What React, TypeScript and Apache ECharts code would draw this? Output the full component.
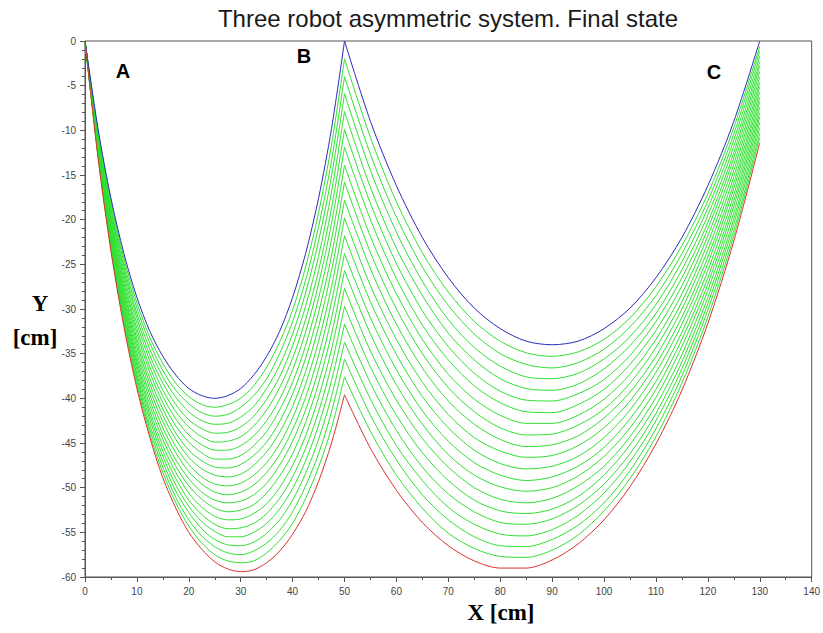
import React, { useEffect, useRef } from "react";
import * as echarts from "echarts";

// x positions (cm) at which each cable was read: A→B span and B→C span
const xLeft = [0, 2.5, 5, 7.5, 10, 12.5, 15, 17.5, 20, 22.5, 25, 27.5, 30, 32.5, 35, 37.5, 40, 42.5, 45, 47.5, 50];
const xRight = [50, 55, 60, 65, 70, 75, 80, 85, 90, 95, 100, 105, 110, 115, 120, 125, 130];

// top (blue) state, Y in cm
const blueLeftY = [0, -9.8, -17.6, -23.8, -28.7, -32.5, -35.3, -37.4, -38.9, -39.7, -40.0, -39.7, -38.9, -37.4, -35.3, -32.5, -28.7, -23.8, -17.6, -9.8, 0];
const blueRightY = [0, -9.0, -16.2, -22.0, -26.5, -29.9, -32.2, -33.6, -34.0, -33.6, -32.2, -29.9, -26.5, -22.0, -16.2, -9.0, 0];

// bottom (red) state
const redLeftY = [0, -13.0, -23.5, -32.0, -38.9, -44.4, -48.9, -52.3, -55.0, -56.9, -58.3, -59.1, -59.4, -59.2, -58.4, -57.1, -55.2, -52.7, -49.3, -45.0, -39.6];
const redRightY = [-39.6, -45.6, -50.3, -53.9, -56.5, -58.2, -59.0, -59.0, -58.1, -56.3, -53.6, -49.9, -45.1, -39.1, -31.6, -22.4, -11.4];

// intermediate (green) states
const greenLeftY = [
  [0, -10.0, -18.0, -24.3, -29.3, -33.2, -36.1, -38.3, -39.8, -40.7, -41.0, -40.7, -40.0, -38.6, -36.5, -33.7, -30.1, -25.3, -19.2, -11.6, -2.0],
  [0, -10.2, -18.3, -24.8, -29.9, -33.8, -36.9, -39.1, -40.6, -41.6, -42.0, -41.8, -41.0, -39.7, -37.8, -35.0, -31.4, -26.8, -20.8, -13.4, -4.0],
  [0, -10.4, -18.7, -25.3, -30.5, -34.5, -37.6, -39.9, -41.5, -42.5, -42.9, -42.8, -42.1, -40.9, -38.9, -36.3, -32.8, -28.2, -22.4, -15.1, -5.9],
  [0, -10.6, -19.0, -25.7, -31.0, -35.2, -38.3, -40.7, -42.4, -43.4, -43.9, -43.8, -43.2, -42.0, -40.1, -37.6, -34.1, -29.7, -24.1, -16.9, -7.9],
  [0, -10.8, -19.4, -26.2, -31.6, -35.8, -39.1, -41.5, -43.2, -44.3, -44.9, -44.8, -44.3, -43.1, -41.3, -38.8, -35.5, -31.2, -25.7, -18.7, -9.9],
  [0, -10.9, -19.7, -26.7, -32.2, -36.5, -39.8, -42.3, -44.1, -45.2, -45.8, -45.8, -45.3, -44.2, -42.5, -40.1, -36.8, -32.6, -27.2, -20.4, -11.9],
  [0, -11.1, -20.0, -27.1, -32.7, -37.1, -40.5, -43.1, -44.9, -46.1, -46.8, -46.8, -46.4, -45.3, -43.7, -41.3, -38.2, -34.1, -28.8, -22.2, -13.9],
  [0, -11.3, -20.3, -27.6, -33.3, -37.8, -41.2, -43.9, -45.8, -47.0, -47.7, -47.8, -47.4, -46.4, -44.9, -42.6, -39.5, -35.5, -30.4, -24.0, -15.8],
  [0, -11.5, -20.7, -28.0, -33.8, -38.4, -41.9, -44.6, -46.6, -47.9, -48.6, -48.8, -48.5, -47.5, -46.0, -43.8, -40.9, -37.0, -32.0, -25.7, -17.8],
  [0, -11.6, -21.0, -28.4, -34.3, -39.0, -42.6, -45.4, -47.4, -48.8, -49.6, -49.8, -49.5, -48.6, -47.2, -45.1, -42.2, -38.4, -33.6, -27.5, -19.8],
  [0, -11.8, -21.3, -28.8, -34.9, -39.6, -43.3, -46.1, -48.2, -49.6, -50.5, -50.8, -50.5, -49.7, -48.3, -46.3, -43.5, -39.9, -35.2, -29.2, -21.8],
  [0, -11.9, -21.5, -29.2, -35.4, -40.2, -44.0, -46.9, -49.0, -50.5, -51.4, -51.7, -51.5, -50.8, -49.5, -47.5, -44.8, -41.3, -36.8, -31.0, -23.8],
  [0, -12.1, -21.8, -29.6, -35.9, -40.8, -44.6, -47.6, -49.8, -51.3, -52.3, -52.7, -52.5, -51.9, -50.6, -48.7, -46.2, -42.7, -38.3, -32.8, -25.7],
  [0, -12.2, -22.1, -30.0, -36.3, -41.4, -45.3, -48.3, -50.6, -52.2, -53.2, -53.6, -53.5, -52.9, -51.8, -50.0, -47.5, -44.2, -39.9, -34.5, -27.7],
  [0, -12.4, -22.4, -30.4, -36.8, -41.9, -45.9, -49.0, -51.4, -53.0, -54.1, -54.6, -54.5, -54.0, -52.9, -51.2, -48.8, -45.6, -41.5, -36.3, -29.7],
  [0, -12.5, -22.6, -30.7, -37.3, -42.4, -46.5, -49.7, -52.1, -53.8, -54.9, -55.5, -55.5, -55.0, -54.0, -52.4, -50.1, -47.0, -43.0, -38.0, -31.7],
  [0, -12.6, -22.8, -31.1, -37.7, -43.0, -47.1, -50.4, -52.8, -54.6, -55.8, -56.4, -56.5, -56.1, -55.1, -53.6, -51.4, -48.4, -44.6, -39.8, -33.7],
  [0, -12.7, -23.1, -31.4, -38.1, -43.5, -47.7, -51.1, -53.6, -55.4, -56.6, -57.3, -57.5, -57.1, -56.2, -54.8, -52.7, -49.8, -46.2, -41.5, -35.6],
  [0, -12.9, -23.3, -31.7, -38.5, -44.0, -48.3, -51.7, -54.3, -56.2, -57.5, -58.2, -58.4, -58.2, -57.3, -55.9, -54.0, -51.2, -47.7, -43.3, -37.6],
];
const greenRightY = [
  [-2.0, -10.8, -18.0, -23.7, -28.1, -31.4, -33.6, -34.9, -35.3, -34.8, -33.4, -31.0, -27.5, -22.9, -17.1, -9.7, -0.6],
  [-4.0, -12.7, -19.7, -25.3, -29.6, -32.8, -35.0, -36.2, -36.6, -36.0, -34.5, -32.0, -28.5, -23.8, -17.9, -10.4, -1.1],
  [-5.9, -14.5, -21.4, -26.9, -31.2, -34.3, -36.4, -37.6, -37.8, -37.2, -35.6, -33.1, -29.5, -24.7, -18.7, -11.1, -1.7],
  [-7.9, -16.4, -23.2, -28.5, -32.7, -35.7, -37.8, -38.9, -39.1, -38.4, -36.7, -34.1, -30.5, -25.6, -19.5, -11.8, -2.3],
  [-9.9, -18.2, -24.9, -30.2, -34.2, -37.2, -39.2, -40.2, -40.3, -39.5, -37.9, -35.2, -31.4, -26.5, -20.3, -12.5, -2.8],
  [-11.9, -20.0, -26.6, -31.8, -35.7, -38.6, -40.5, -41.5, -41.6, -40.7, -39.0, -36.2, -32.4, -27.4, -21.0, -13.1, -3.4],
  [-13.9, -21.9, -28.3, -33.4, -37.3, -40.1, -41.9, -42.8, -42.8, -41.9, -40.1, -37.3, -33.4, -28.3, -21.8, -13.8, -4.0],
  [-15.8, -23.7, -30.0, -35.0, -38.8, -41.5, -43.3, -44.1, -44.0, -43.0, -41.2, -38.3, -34.3, -29.2, -22.6, -14.5, -4.6],
  [-17.8, -25.5, -31.7, -36.6, -40.3, -42.9, -44.6, -45.4, -45.2, -44.2, -42.2, -39.3, -35.3, -30.0, -23.4, -15.2, -5.1],
  [-19.8, -27.4, -33.4, -38.2, -41.8, -44.4, -45.9, -46.6, -46.4, -45.3, -43.3, -40.3, -36.2, -30.9, -24.2, -15.9, -5.7],
  [-21.8, -29.2, -35.1, -39.8, -43.3, -45.8, -47.3, -47.9, -47.6, -46.5, -44.4, -41.3, -37.1, -31.7, -24.9, -16.5, -6.3],
  [-23.8, -31.0, -36.8, -41.4, -44.8, -47.2, -48.6, -49.2, -48.8, -47.6, -45.5, -42.3, -38.1, -32.6, -25.7, -17.2, -6.8],
  [-25.7, -32.8, -38.5, -42.9, -46.3, -48.6, -49.9, -50.4, -50.0, -48.7, -46.5, -43.3, -39.0, -33.4, -26.5, -17.9, -7.4],
  [-27.7, -34.7, -40.2, -44.5, -47.7, -50.0, -51.3, -51.7, -51.2, -49.8, -47.6, -44.3, -39.9, -34.2, -27.2, -18.5, -8.0],
  [-29.7, -36.5, -41.9, -46.1, -49.2, -51.4, -52.6, -52.9, -52.4, -51.0, -48.6, -45.2, -40.8, -35.1, -27.9, -19.2, -8.5],
  [-31.7, -38.3, -43.6, -47.7, -50.7, -52.7, -53.9, -54.1, -53.5, -52.0, -49.6, -46.2, -41.7, -35.9, -28.7, -19.9, -9.1],
  [-33.7, -40.1, -45.3, -49.2, -52.2, -54.1, -55.2, -55.4, -54.7, -53.1, -50.6, -47.1, -42.5, -36.7, -29.4, -20.5, -9.7],
  [-35.6, -41.9, -46.9, -50.8, -53.6, -55.5, -56.5, -56.6, -55.8, -54.2, -51.7, -48.1, -43.4, -37.5, -30.1, -21.2, -10.3],
  [-37.6, -43.7, -48.6, -52.3, -55.1, -56.8, -57.7, -57.8, -57.0, -55.3, -52.6, -49.0, -44.3, -38.3, -30.9, -21.8, -10.8],
];

const robotNames = ["A", "B", "C"];

const BLUE = "#2b2bbd";
const RED = "#dc2f2f";
const GREEN = "#2fe02f";

function lineSeries(xs: number[], ys: number[], color: string, z: number) {
  return {
    type: "line",
    data: xs.map((x, i) => [x, ys[i]]),
    smooth: 0.3,
    showSymbol: false,
    symbol: "none",
    silent: true,
    z,
    lineStyle: { color, width: 1, join: "round" },
  };
}

export default function App() {
  const ref = useRef<HTMLDivElement>(null);
  useEffect(() => {
    if (!ref.current) return;
    const chart = echarts.init(ref.current, undefined, { renderer: "svg" });
    const series: any[] = [];
    greenLeftY.forEach((ys) => series.push(lineSeries(xLeft, ys, GREEN, 2)));
    greenRightY.forEach((ys) => series.push(lineSeries(xRight, ys, GREEN, 2)));
    series.push(lineSeries(xLeft, blueLeftY, BLUE, 3));
    series.push(lineSeries(xRight, blueRightY, BLUE, 3));
    series.push(lineSeries(xLeft, redLeftY, RED, 3));
    series.push(lineSeries(xRight, redRightY, RED, 3));

    const tickFont = { fontFamily: "Liberation Sans", fontSize: 10, color: "#444" };
    chart.setOption({
      animation: false,
      backgroundColor: "#fff",
      grid: {
        left: 85,
        top: 41,
        width: 728,
        height: 536,
        show: true,
        borderColor: "#555",
        borderWidth: 1,
        backgroundColor: "transparent",
      },
      xAxis: {
        type: "value",
        min: 0,
        max: 140,
        interval: 10,
        axisLine: { show: true, onZero: false, lineStyle: { color: "#555", width: 1 } },
        axisTick: { show: true, length: 5, lineStyle: { color: "#555" } },
        minorTick: { show: true, splitNumber: 2, length: 3, lineStyle: { color: "#555" } },
        splitLine: { show: false },
        axisLabel: { ...tickFont, margin: 9 },
      },
      yAxis: {
        type: "value",
        min: -60,
        max: 0,
        interval: 5,
        axisLine: { show: true, onZero: false, lineStyle: { color: "#555", width: 1 } },
        axisTick: { show: true, length: 5, lineStyle: { color: "#555" } },
        minorTick: { show: true, splitNumber: 5, length: 3, lineStyle: { color: "#555" } },
        splitLine: { show: false },
        axisLabel: { ...tickFont, margin: 9 },
      },
      graphic: [
        {
          type: "text",
          x: 448,
          y: 18,
          style: {
            text: "Three robot asymmetric system. Final state",
            font: "24px 'Liberation Sans'",
            fill: "#1a1a1a",
            align: "center",
            verticalAlign: "middle",
          },
        },
        {
          type: "text",
          x: 123,
          y: 71,
          style: { text: robotNames[0], font: "bold 20px 'Liberation Sans'", fill: "#000", align: "center", verticalAlign: "middle" },
        },
        {
          type: "text",
          x: 304,
          y: 56,
          style: { text: robotNames[1], font: "bold 20px 'Liberation Sans'", fill: "#000", align: "center", verticalAlign: "middle" },
        },
        {
          type: "text",
          x: 714,
          y: 72,
          style: { text: robotNames[2], font: "bold 20px 'Liberation Sans'", fill: "#000", align: "center", verticalAlign: "middle" },
        },
        {
          type: "text",
          x: 40,
          y: 303,
          style: { text: "Y", font: "bold 23px 'Liberation Serif'", fill: "#000", align: "center", verticalAlign: "middle" },
        },
        {
          type: "text",
          x: 35,
          y: 337,
          style: { text: "[cm]", font: "bold 23px 'Liberation Serif'", fill: "#000", align: "center", verticalAlign: "middle" },
        },
        {
          type: "text",
          x: 501,
          y: 612,
          style: { text: "X [cm]", font: "bold 23px 'Liberation Serif'", fill: "#000", align: "center", verticalAlign: "middle" },
        },
      ],
      series,
    });
    return () => chart.dispose();
  }, []);
  return <div ref={ref} style={{ position: "absolute", left: 0, top: 0, width: 823, height: 633 }} />;
}
